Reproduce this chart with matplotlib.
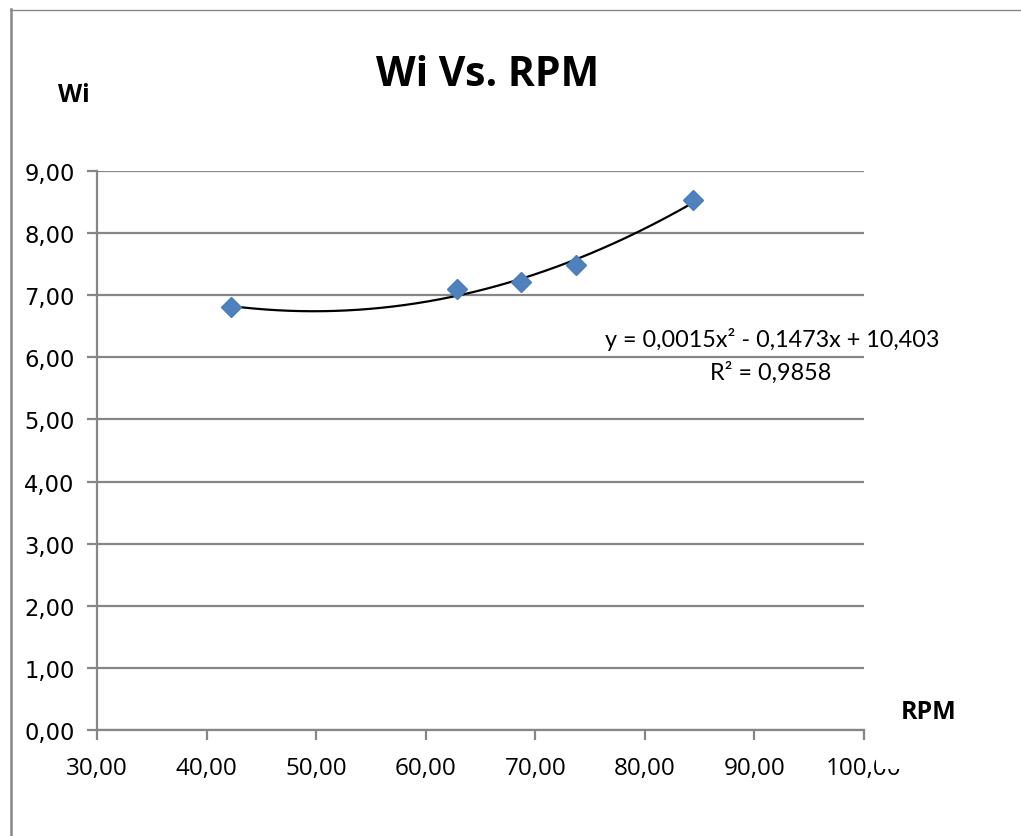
import numpy as np
import matplotlib
matplotlib.use("Agg")
import matplotlib.pyplot as plt
from matplotlib.lines import Line2D
from matplotlib.patches import Rectangle
from matplotlib.transforms import IdentityTransform

# Measured rotational speed and corresponding Wi values
rpm = [42.2, 62.9, 68.7, 73.7, 84.4]
wi = [6.81, 7.10, 7.22, 7.49, 8.53]

x_ticks = [30, 40, 50, 60, 70, 80, 90, 100]
y_ticks = [0, 1, 2, 3, 4, 5, 6, 7, 8, 9]
equation_text = "y = 0,0015x² - 0,1473x + 10,403"
r2_text = "R² = 0,9858"

W, H = 1021, 837
fig = plt.figure(figsize=(W / 100, H / 100), dpi=100)
fig.patch.set_facecolor("white")

grey = "#868686"

# chart-area border (left and top edges)
fig.add_artist(Line2D([11 / W, 11 / W], [0, 1 - 10 / H], transform=fig.transFigure,
                      color=grey, lw=1.8))
fig.add_artist(Line2D([10 / W, 1], [1 - 10.5 / H, 1 - 10.5 / H], transform=fig.transFigure,
                      color=grey, lw=1.0))

left, right = 97 / W, 864 / W
bottom, top = 1 - 731 / H, 1 - 172 / H
ax = fig.add_axes([left, bottom, right - left, top - bottom])

ax.set_xlim(30, 100)
ax.set_ylim(0, 9)
ax.set_xticks(x_ticks)
ax.set_yticks(y_ticks)
ax.set_xticklabels([f"{v:.2f}".replace(".", ",") for v in x_ticks],
                   family="Open Sans", fontsize=17.5)
ax.set_yticklabels([f"{v:.2f}".replace(".", ",") for v in y_ticks],
                   family="DejaVu Sans", fontsize=16.3)

ax.grid(axis="y", color=grey, lw=1.6)
ax.set_axisbelow(True)
for side in ["top", "right"]:
    ax.spines[side].set_visible(False)
for side in ["left", "bottom"]:
    ax.spines[side].set_color(grey)
    ax.spines[side].set_linewidth(1.6)
ax.tick_params(axis="both", direction="out", color=grey, width=1.6, length=7,
               labelcolor="black")
ax.tick_params(axis="x", pad=12)
ax.tick_params(axis="y", pad=9)

# second-order polynomial trendline
coef = np.polyfit(rpm, wi, 2)
xs = np.linspace(min(rpm), max(rpm), 200)
ax.plot(xs, np.polyval(coef, xs), color="black", lw=1.6, zorder=3)

ax.plot(rpm, wi, linestyle="none", marker="D", markersize=10.5,
        color="#4F81BD", markeredgecolor="#4A7EBB", zorder=4)

# titles and labels
fig.text(488 / W, 1 - 76 / H, "Wi Vs. RPM", ha="center", va="center",
         family="Open Sans", weight="bold", fontsize=29.5)
fig.text(74 / W, 1 - 96 / H, "Wi", ha="center", va="center",
         family="Open Sans", weight="bold", fontsize=18)
fig.text(929 / W, 1 - 713 / H, "RPM", ha="center", va="center",
         family="Open Sans", weight="bold", fontsize=18)

fig.text(772 / W, 1 - 340 / H, equation_text, ha="center", va="center",
         family="Lato", fontsize=16.8)
fig.text(771 / W, 1 - 373 / H, r2_text, ha="center", va="center",
         family="Lato", fontsize=16.8)

# the last x tick label is partly cut off at the top of its final digits
fig.canvas.draw()
last = ax.get_xticklabels()[-1]
bb = last.get_window_extent()
cut_x = bb.x0 + 0.655 * bb.width
cut_y = bb.y0 + 0.48 * bb.height
fig.add_artist(Rectangle((cut_x, cut_y), bb.x1 + 3 - cut_x, bb.y1 + 3 - cut_y,
                         transform=IdentityTransform(), facecolor="white",
                         edgecolor="none", zorder=10))

fig.savefig("out.png", dpi=100)
